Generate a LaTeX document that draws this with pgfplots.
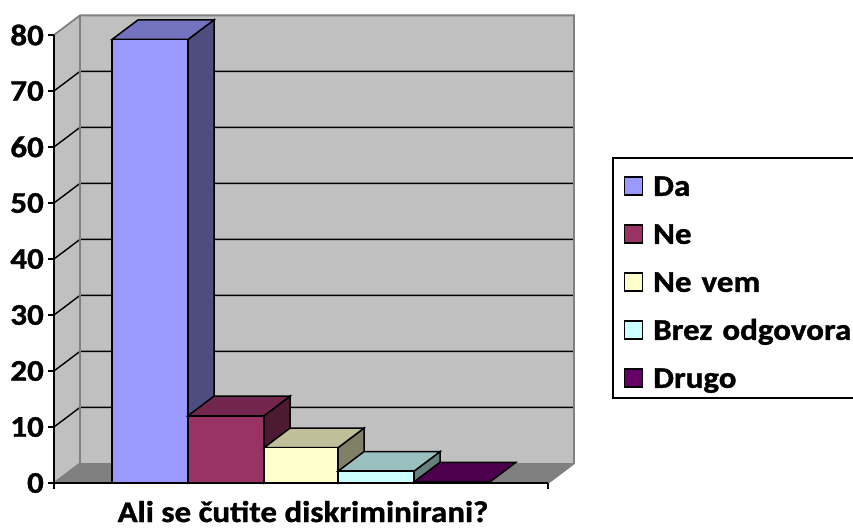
\documentclass[border=0pt]{standalone}
\usepackage{pgfplots}
\pgfplotsset{compat=1.18}
\usepackage{fontspec}
\setmainfont{Carlito}[FakeStretch=1.1,BoldFeatures={FakeBold=1.2}]
\definecolor{wall}{HTML}{C0C0C0}
\definecolor{floorc}{HTML}{808080}
\definecolor{cA}{HTML}{9999FF}\definecolor{cAt}{HTML}{7373BF}\definecolor{cAs}{HTML}{4D4D80}
\definecolor{cB}{HTML}{993366}\definecolor{cBt}{HTML}{73264D}\definecolor{cBs}{HTML}{4D1A33}
\definecolor{cC}{HTML}{FFFFCC}\definecolor{cCt}{HTML}{BFBF99}\definecolor{cCs}{HTML}{808066}
\definecolor{cD}{HTML}{CCFFFF}\definecolor{cDt}{HTML}{99BFBF}\definecolor{cDs}{HTML}{668080}
\definecolor{cE}{HTML}{660066}\definecolor{cEt}{HTML}{4D004D}\definecolor{cEs}{HTML}{330033}
\tikzset{bar edge/.style={draw=black,line width=1.5pt,line join=miter}}
\newcommand{\swatch}[1]{\addlegendimage{legend image code/.code={\draw[black,line width=1.4pt,fill=#1] (0pt,-13pt) rectangle (18pt,5pt);\path (28pt,0pt);}}}
\begin{document}
\begin{tikzpicture}
\path[use as bounding box] (-54pt,-44pt) rectangle (799pt,483pt);
\begin{axis}[
  at={(0pt,0pt)},
  anchor=origin,
  scale only axis,
  width=494pt,
  height=448pt,
  xmin=54, xmax=548,
  ymin=0, ymax=80,
  clip=false,
  no markers,
  axis x line=bottom,
  axis y line=left,
  axis line style={black,line width=1.6pt,-},
  axis on top,
  xtick={54,548},
  xticklabels={},
  ytick={0,10,...,80},
  tick style={black,line width=1.5pt},
  major tick length=6pt,
  tick align=outside,
  /pgf/number format/assume math mode=true,
  yticklabel style={font=\bfseries\fontsize{30}{30}\selectfont,inner sep=0pt,xshift=-4pt},
  xlabel={Ali se čutite diskriminirani?},
  xlabel style={font=\bfseries\fontsize{30}{30}\selectfont,inner sep=0pt,text depth=0pt,at={(axis description cs:0.5,0)},anchor=base,xshift=2pt,yshift=-39pt},
  legend cell align=left,
  legend style={
    at={(axis cs:612,58.2)},anchor=north west,
    draw=black,line width=1.5pt,
    font=\bfseries\fontsize{30}{30}\selectfont,
    row sep=20pt,
    inner xsep=11pt,inner ysep=10pt,
    nodes={text width=208pt,text height=28pt,text depth=0pt,inner sep=0pt,anchor=west},
  },
]
% walls and floor
\addplot[fill=wall,draw=none,forget plot] coordinates {(54,0)(80,3.5)(80,83.5)(54,80)} -- cycle;
\addplot[fill=wall,draw=none,forget plot] coordinates {(80,3.5)(574,3.5)(574,83.5)(80,83.5)} -- cycle;
\addplot[fill=floorc,draw=none,forget plot] coordinates {(54,0)(548,0)(574,3.5)(80,3.5)} -- cycle;
% gridlines
\pgfplotsinvokeforeach{10,20,...,70}{
  \addplot[black,line width=1.4pt,forget plot] coordinates {(54,#1)(80,#1+3.5)(574,#1+3.5)};
}
\addplot[floorc,line width=1.8pt,forget plot] coordinates {(54,80)(80,83.5)(574,83.5)(574,3.5)(548,0)};
\addplot[floorc,line width=1.8pt,forget plot] coordinates {(80,83.5)(80,3.5)(574,3.5)};
\addplot[floorc,line width=1.8pt,forget plot] coordinates {(54,0)(80,3.5)};
% Da
\addplot[bar edge,fill=cAs,forget plot] coordinates {(188,0)(214,3.5)(214,82.7)(188,79.2)} -- cycle;
\addplot[bar edge,fill=cAt,forget plot] coordinates {(112,79.2)(188,79.2)(214,82.7)(138,82.7)} -- cycle;
\addplot[bar edge,fill=cA,forget plot] coordinates {(112,0)(188,0)(188,79.2)(112,79.2)} -- cycle;
% Ne
\addplot[bar edge,fill=cBs,forget plot] coordinates {(264,0)(290,3.5)(290,15.5)(264,12)} -- cycle;
\addplot[bar edge,fill=cBt,forget plot] coordinates {(188,12)(264,12)(290,15.5)(214,15.5)} -- cycle;
\addplot[bar edge,fill=cB,forget plot] coordinates {(188,0)(264,0)(264,12)(188,12)} -- cycle;
% Ne vem
\addplot[bar edge,fill=cCs,forget plot] coordinates {(338,0)(364,3.5)(364,9.8)(338,6.3)} -- cycle;
\addplot[bar edge,fill=cCt,forget plot] coordinates {(264,6.3)(338,6.3)(364,9.8)(290,9.8)} -- cycle;
\addplot[bar edge,fill=cC,forget plot] coordinates {(264,0)(338,0)(338,6.3)(264,6.3)} -- cycle;
% Brez odgovora
\addplot[bar edge,fill=cDs,forget plot] coordinates {(414,0)(440,3.5)(440,5.6)(414,2.1)} -- cycle;
\addplot[bar edge,fill=cDt,forget plot] coordinates {(338,2.1)(414,2.1)(440,5.6)(364,5.6)} -- cycle;
\addplot[bar edge,fill=cD,forget plot] coordinates {(338,0)(414,0)(414,2.1)(338,2.1)} -- cycle;
% Drugo
\addplot[bar edge,fill=cEt,forget plot] coordinates {(414,0.2)(490,0.2)(516,3.7)(440,3.7)} -- cycle;
\addplot[bar edge,line width=2.2pt,fill=cE,forget plot] coordinates {(414,0)(490,0)(490,0.2)(414,0.2)} -- cycle;
% legend
\swatch{cA}\addlegendentry{Da}
\swatch{cB}\addlegendentry{Ne}
\swatch{cC}\addlegendentry{Ne vem}
\swatch{cD}\addlegendentry{Brez odgovora}
\swatch{cE}\addlegendentry{Drugo}
\end{axis}
\end{tikzpicture}
\end{document}
